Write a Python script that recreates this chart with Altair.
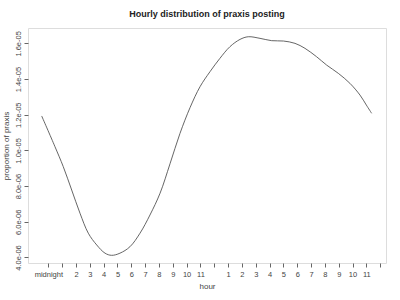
import altair as alt
import pandas as pd

hours = [-0.48, 0.48, 1.08, 1.69, 2.29, 2.89, 3.5, 4.1, 4.58, 5.18, 5.9, 6.63, 7.35,
         8.08, 8.8, 9.52, 10.25, 10.97, 11.69, 12.41, 13.13, 13.86, 14.46, 15.31,
         16.15, 17.0, 17.84, 18.56, 19.4, 20.13, 20.97, 21.81, 22.54, 23.0, 23.38]
values_e6 = [11.93, 10.21, 9.09, 7.78, 6.48, 5.36, 4.70, 4.24, 4.12, 4.24, 4.60, 5.36, 6.38,
             7.60, 9.25, 10.95, 12.40, 13.57, 14.41, 15.16, 15.81, 16.22, 16.37, 16.28,
             16.15, 16.13, 16.00, 15.72, 15.25, 14.78, 14.32, 13.76, 13.10, 12.54, 12.08]

x_ticks = list(range(0, 25))
x_labels = ["midnight", "", "2", "3", "4", "5", "6", "7", "8", "9", "10", "11", "",
            "1", "2", "3", "4", "5", "6", "7", "8", "9", "10", "11", ""]
y_ticks = [4e-6, 6e-6, 8e-6, 1e-5, 1.2e-5, 1.4e-5, 1.6e-5]

df = pd.DataFrame({"hour": hours, "prop": [v * 1e-6 for v in values_e6]})

label_array = "[" + ",".join("'" + s + "'" for s in x_labels) + "]"
FONT = "Liberation Sans"
TXT = "#444444"
LINE = "#666666"

chart = alt.Chart(df).mark_line(color="#555555", strokeWidth=0.9, interpolate="catmull-rom").encode(
    x=alt.X("hour:Q",
            scale=alt.Scale(domain=[-1.47, 24.42], nice=False, zero=False),
            axis=alt.Axis(values=x_ticks, labelExpr=label_array + "[datum.value]",
                          title="hour", grid=False, domain=False, tickColor=LINE,
                          tickSize=4, labelPadding=3, labelFontSize=7.5, labelFont=FONT,
                          labelColor=TXT, labelOverlap=False, labelFlush=False,
                          titleFont=FONT, titleFontSize=8, titleFontWeight="normal",
                          titleColor=TXT, titlePadding=5)),
    y=alt.Y("prop:Q",
            scale=alt.Scale(domain=[3.69e-6, 1.686e-5], nice=False, zero=False),
            axis=alt.Axis(values=y_ticks,
                          labelExpr="replace(format(datum.value, '.1e'), 'e-', 'e-0')",
                          title="proportion of praxis", grid=False, domain=False,
                          tickColor=LINE, tickSize=4, labelPadding=2, labelAngle=-90,
                          labelAlign="center", labelBaseline="bottom",
                          labelFontSize=7.5, labelFont=FONT, labelColor=TXT,
                          labelOverlap=False, labelFlush=False,
                          titleFont=FONT, titleFontSize=8, titleFontWeight="normal",
                          titleColor=TXT, titlePadding=4)),
).properties(
    width=358, height=235,
    title=alt.TitleParams("Hourly distribution of praxis posting", font=FONT,
                          fontSize=9, fontWeight="bold", color="#222222",
                          anchor="middle", offset=9),
    autosize=alt.AutoSizeParams(type="none"),
    padding={"left": 28, "top": 28, "right": 14, "bottom": 37},
).configure_view(stroke=LINE, strokeWidth=1).configure(background="white")

chart.save("out.html", embed_options={"renderer": "svg", "actions": False})
